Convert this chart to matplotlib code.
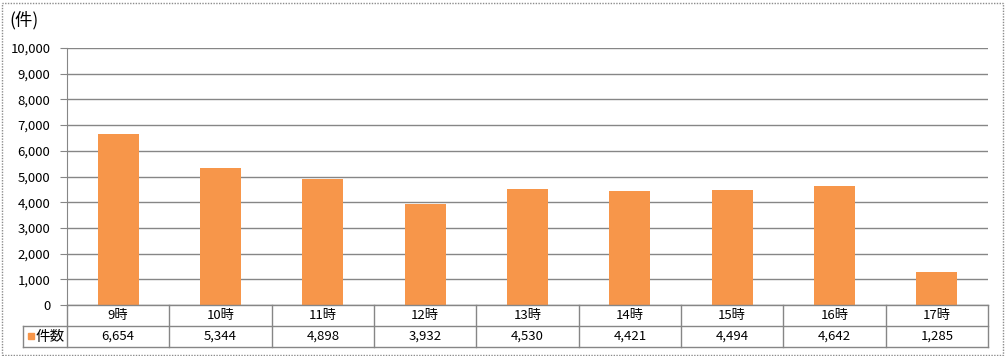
import matplotlib.pyplot as plt
from matplotlib.lines import Line2D
from matplotlib.patches import Rectangle

plt.rcParams['font.family'] = ['Noto Sans CJK JP', 'DejaVu Sans']

hours = ["9時", "10時", "11時", "12時", "13時", "14時", "15時", "16時", "17時"]
counts = [6654, 5344, 4898, 3932, 4530, 4421, 4494, 4642, 1285]
series_name = "件数"

W, H = 1005, 356
fig = plt.figure(figsize=(W / 100, H / 100), dpi=100)

# 枠
fig.add_artist(Rectangle((1.5 / W, 1.5 / H), (W - 4) / W, (H - 4) / H, fill=False,
                         edgecolor="#8c8c8c", lw=1, linestyle=(0, (1, 1))))

x0, x1, ytop, ybot = 67, 988, 48, 305
ax = fig.add_axes([x0 / W, (H - ybot) / H, (x1 - x0) / W, (ybot - ytop) / H])

xs = list(range(len(hours)))
ax.bar(xs, counts, width=0.4, color="#F7964A", zorder=3)
ax.set_xlim(-0.5, len(hours) - 0.5)
ax.set_ylim(0, 10000)
ax.set_yticks(range(0, 10001, 1000))
ax.set_yticklabels([f"{v:,}" for v in range(0, 10001, 1000)], fontsize=9.5)
ax.yaxis.grid(True, color="#868686", lw=1)
ax.set_axisbelow(True)
ax.set_xticks([])
for s in ["top", "right", "bottom"]:
    ax.spines[s].set_visible(False)
ax.spines["left"].set_color("#868686")
ax.tick_params(axis="y", length=5, color="#868686", pad=7)

fig.text(9 / W, 1 - 20 / H, "(件)", fontsize=12.5, va="center", ha="left")

# データテーブル
def hline(y, xa, xb):
    fig.add_artist(Line2D([xa / W, xb / W], [1 - y / H, 1 - y / H], color="#868686", lw=1))

def vline(x, ya, yb):
    fig.add_artist(Line2D([x / W, x / W], [1 - ya / H, 1 - yb / H], color="#868686", lw=1))

r0, r1, r2 = 305, 326, 347
hline(r0, x0, x1)
hline(r1, 23, x1)
hline(r2, 23, x1)
vline(23, r1, r2)
step = (x1 - x0) / len(hours)
for i in range(len(hours) + 1):
    vline(x0 + i * step, r0, r2)
for i, (h, c) in enumerate(zip(hours, counts)):
    cx = (x0 + (i + 0.5) * step) / W
    fig.text(cx, 1 - (r0 + r1) / 2 / H, h, ha="center", va="center", fontsize=9.5)
    fig.text(cx, 1 - (r1 + r2) / 2 / H, f"{c:,}", ha="center", va="center", fontsize=9.5)

fig.add_artist(Rectangle((28 / W, 1 - 339 / H), 6 / W, 6 / H, color="#F7964A"))
fig.text(36 / W, 1 - (r1 + r2) / 2 / H, series_name, ha="left", va="center", fontsize=10.5)

fig.savefig("out.png", dpi=100)
